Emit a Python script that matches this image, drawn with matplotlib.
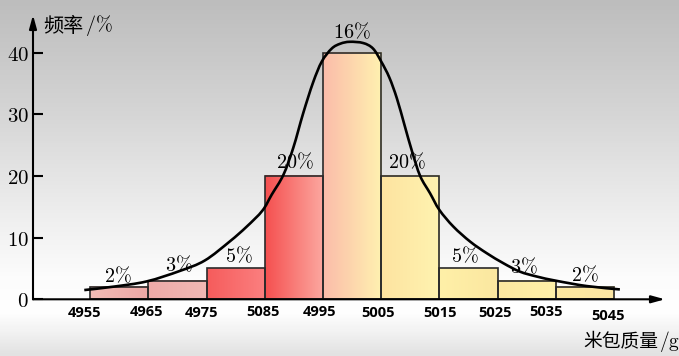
import numpy as np
import matplotlib
matplotlib.use("Agg")
import matplotlib.pyplot as plt
from matplotlib.colors import LinearSegmentedColormap
from matplotlib.path import Path
from matplotlib.patches import PathPatch

plt.rcParams['mathtext.fontset'] = 'cm'

# ---------------- data ----------------
bin_edges = [4955, 4965, 4975, 4985, 4995, 5005, 5015, 5025, 5035, 5045]
freq = [2, 3, 5, 20, 40, 20, 5, 3, 2]
bar_labels = ['2%', '3%', '5%', '20%', '16%', '20%', '5%', '3%', '2%']
tick_labels = ['4955', '4965', '4975', '5085', '4995', '5005', '5015', '5025', '5035', '5045']
y_ticks = [0, 10, 20, 30, 40]
curve_x = [4954.0, 4959.0, 4964.7, 4970.4, 4974.7, 4979.0, 4981.9, 4984.6, 4986.2,
           4988.2, 4989.9, 4991.6, 4993.3, 4994.8, 4996.5, 4998.0, 4999.6, 5001.9,
           5003.6, 5005.0, 5006.4, 5007.7, 5009.0, 5010.3, 5011.7, 5013.4, 5015.0,
           5017.4, 5020.3, 5023.1, 5026.0, 5028.8, 5031.7, 5035.1, 5040.3, 5046.0]
curve_y = [1.5, 2.05, 2.9, 4.6, 6.3, 9.4, 11.8, 14.4, 17.0,
           20.2, 24.6, 30.2, 35.2, 38.6, 40.7, 41.5, 41.8, 41.6,
           40.7, 38.6, 36.0, 32.6, 28.3, 24.0, 20.0, 17.2, 14.5,
           11.8, 9.35, 7.5, 5.85, 4.5, 3.7, 3.0, 2.15, 1.6]
y_label_cn, y_label_unit = '频率', r'$/\%$'
x_label_cn, x_label_unit = '米包质量', r'$/\mathrm{g}$'

# ---------------- styles ----------------
bar_colors = [('#f3bcb6', '#eda7a5'), ('#eeaaa8', '#f1b8b4'), ('#f65c5c', '#fb8080'),
              ('#f55050', '#fca8a0'), ('#fbbcaa', '#fff1b0'), ('#fde3a0', '#fff3b0'),
              ('#fff0a8', '#fbe7a0'), ('#fde9a0', '#fff0a8'), ('#fde8a0', '#fbe6a4')]
label_off = [(-1, 11), (1, 15.5), (3, 13), (1, 14), (0, 21), (-3.5, 14), (-3.5, 12.6), (-2.7, 14), (0, 12.5)]
tick_off = [(-5.6, 14), (-1.7, 12.4), (-4.9, 14), (-1.7, 12.4), (-3, 12.4),
            (-3.4, 14), (0.5, 14), (-2.6, 14), (-10, 12.4), (-5.6, 16.7)]

W, H = 679, 356
fig = plt.figure(figsize=(W / 100, H / 100), dpi=100)

# background gradient
bg = fig.add_axes([0, 0, 1, 1], zorder=0)
bg.axis('off')
bg_cmap = LinearSegmentedColormap.from_list(
    'bg', [(0, '#bdbdbd'), (0.3, '#d4d4d4'), (0.6, '#eeeeee'),
           (0.78, '#fcfcfc'), (0.88, '#ffffff'), (1, '#e2e2e2')])
bg.imshow(np.linspace(0, 1, 356)[:, None], aspect='auto', cmap=bg_cmap, extent=[0, 1, 0, 1])
bg.set_xlim(0, 1)
bg.set_ylim(0, 1)

ax = fig.add_axes([33 / W, (H - 299.3) / H, (665 - 33) / W, (299.3 - 15) / H], zorder=1)
ax.patch.set_alpha(0)
for s in ax.spines.values():
    s.set_visible(False)

width = bin_edges[1] - bin_edges[0]
bars = ax.bar(bin_edges[:-1], freq, width=width, align='edge', facecolor='none',
              edgecolor='#2a2a2a', linewidth=1.2, zorder=3)
for b, (c0, c1) in zip(bars, bar_colors):
    x0, w, h = b.get_x(), b.get_width(), b.get_height()
    cm = LinearSegmentedColormap.from_list('b', [c0, c1])
    ax.imshow(np.linspace(0, 1, 64)[None, :], cmap=cm, aspect='auto',
              extent=[x0, x0 + w, 0, h], zorder=2, interpolation='bilinear')

# smooth curve through the read points (Catmull-Rom as cubic Bezier path)
P = np.column_stack([curve_x, curve_y])
verts, codes = [P[0]], [Path.MOVETO]
n = len(P)
for i in range(n - 1):
    p0, p1, p2, p3 = P[max(i - 1, 0)], P[i], P[i + 1], P[min(i + 2, n - 1)]
    verts += [p1 + (p2 - p0) / 6, p2 - (p3 - p1) / 6, p2]
    codes += [Path.CURVE4] * 3
ax.add_patch(PathPatch(Path(verts, codes), fill=False, lw=1.9, ec='k', zorder=4,
                       capstyle='butt'))

for b, lab, (dx, dy) in zip(bars, bar_labels, label_off):
    ax.annotate('$' + lab.replace('%', r'\%') + '$', (b.get_x() + b.get_width() / 2, b.get_height()),
                xytext=(dx, dy), textcoords='offset pixels', ha='center', va='center',
                fontsize=14.5, zorder=5)

for e, lab, (dx, dy) in zip(bin_edges, tick_labels, tick_off):
    ax.annotate(lab, (e, 0), xytext=(dx, -dy), textcoords='offset pixels', ha='center',
                va='center', fontsize=10.5, fontweight='bold', family=['Open Sans', 'DejaVu Sans'],
                annotation_clip=False)

ax.set_xlim(4945.19, 5053.75)
ax.set_ylim(0, 46.15)
ax.set_xticks([])
ax.set_yticks(y_ticks)
ax.set_yticklabels(['$%d$' % v for v in y_ticks])
ax.tick_params(axis='y', direction='in', length=7.2, width=1.5, pad=3, labelsize=15)

arrow = dict(arrowstyle='-|>,head_length=0.8,head_width=0.22', color='k', lw=1.5,
             shrinkA=0, shrinkB=0)
ax.annotate('', xy=(1, 0), xytext=(0, 0), xycoords='axes fraction', arrowprops=arrow,
            annotation_clip=False)
ax.annotate('', xy=(0, 1), xytext=(0, 0), xycoords='axes fraction', arrowprops=arrow,
            annotation_clip=False)

t1 = fig.text(43 / W, 1 - 26 / H, y_label_cn, family='Noto Sans CJK SC', fontsize=14.5,
              va='center', ha='left')
ax.annotate(y_label_unit, xy=(1, 0.5), xycoords=t1, xytext=(2, 0), textcoords='offset pixels',
            va='center', ha='left', fontsize=14.5, annotation_clip=False)
t2 = fig.text(583 / W, 1 - 342 / H, x_label_cn, family='Noto Sans CJK SC', fontsize=13.5,
              va='center', ha='left')
ax.annotate(x_label_unit, xy=(1, 0.5), xycoords=t2, xytext=(1, 0), textcoords='offset pixels',
            va='center', ha='left', fontsize=14, annotation_clip=False)

fig.savefig('out.png', dpi=100)
